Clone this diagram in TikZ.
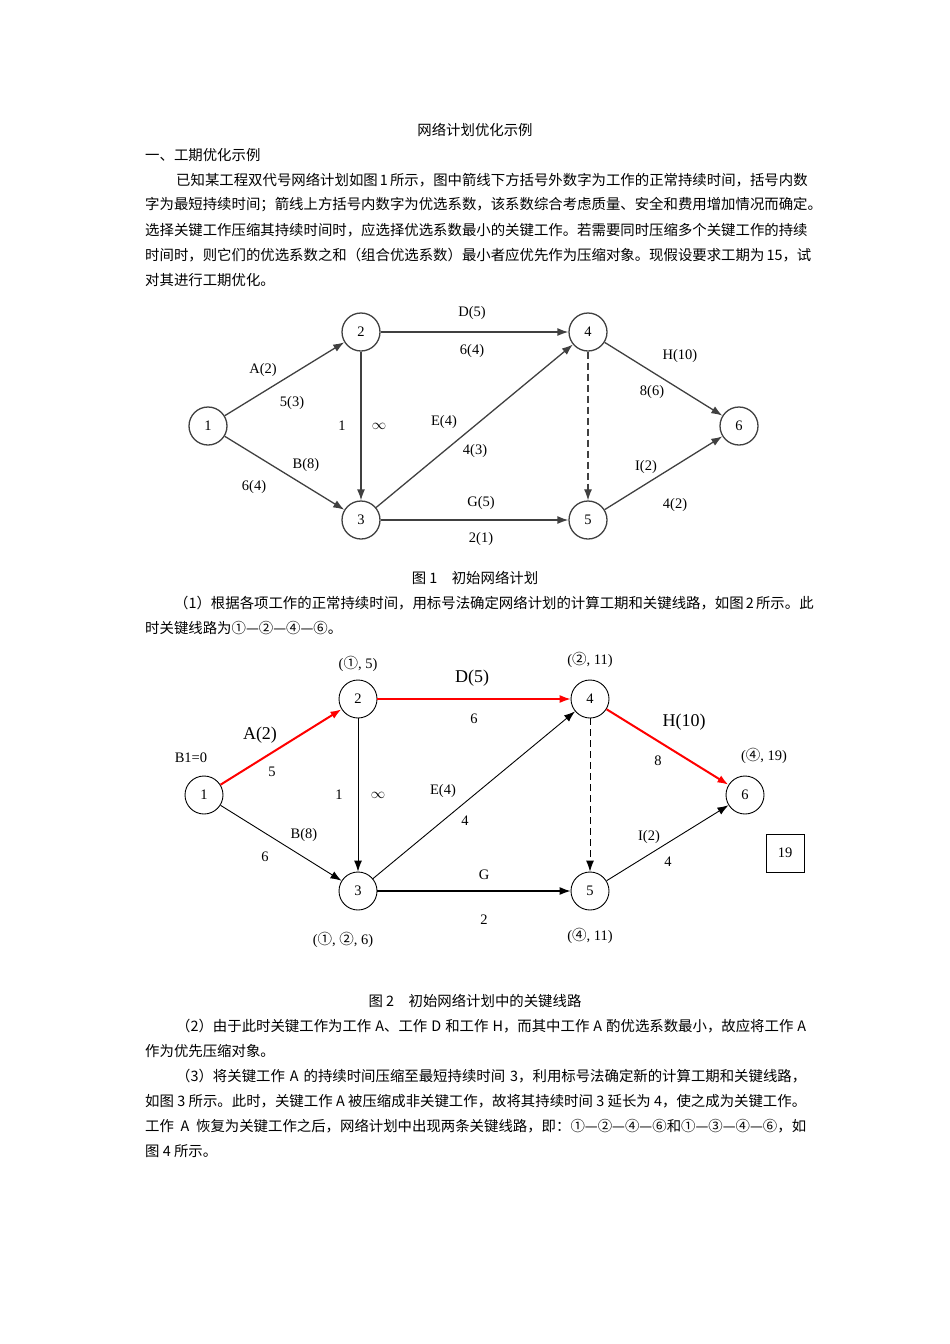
\documentclass[tikz,border=0pt]{standalone}
\usepackage{fontspec}
\setmainfont{Noto Sans CJK SC}
\newfontfamily\labfont{Liberation Serif}
\newfontfamily\cjkfont{Noto Sans CJK SC}
\usetikzlibrary{arrows.meta}
\XeTeXlinebreaklocale "zh"
\XeTeXlinebreakskip=0pt plus 3pt minus 2pt

\tikzset{
  knot/.style={circle, draw, minimum size=38pt, inner sep=0pt, font=\labfont\fontsize{14.5}{14.5}\selectfont},
  lab/.style={inner sep=0pt, font=\labfont\fontsize{14.5}{14.5}\selectfont},
  biglab/.style={inner sep=0pt, font=\labfont\fontsize{18}{18}\selectfont},
  txt/.style={anchor=west, inner sep=0pt, font=\fontsize{14.4}{14.4}\selectfont},
  arr/.style={-{Latex[length=11pt,width=8pt]}},
  dashline/.style={dash pattern=on 7pt off 4pt},
}
\newcommand{\fullrow}[1]{\hbox to 661pt{#1}}
\newcommand{\indrow}[1]{\hbox to 630pt{#1}}

\begin{document}
\begin{tikzpicture}[x=1pt, y=-1pt]
    \useasboundingbox (0,0) rectangle (950,1344);

    % Title and first paragraph
    \node[txt, anchor=center] (title) at (475,130) {网络计划优化示例};
    \node[txt] (sec) at (145,155) {一、工期优化示例};
    \node[txt] (p1a) at (176,180) {\indrow{已知某工程双代号网络计划如图 1 所示，图中箭线下方括号外数字为工作的正常持续时间，括号内数}};
    \node[txt] (p1b) at (145,205) {\fullrow{字为最短持续时间；箭线上方括号内数字为优选系数，该系数综合考虑质量、安全和费用增加情况而确定。}};
    \node[txt] (p1c) at (145,230) {\fullrow{选择关键工作压缩其持续时间时，应选择优选系数最小的关键工作。若需要同时压缩多个关键工作的持续}};
    \node[txt] (p1d) at (145,255) {\fullrow{时间时，则它们的优选系数之和（组合优选系数）最小者应优先作为压缩对象。现假设要求工期为 15，试}};
    \node[txt] (p1e) at (145,280) {对其进行工期优化。};

    % Figure 1: nodes
    \begin{scope}[every node/.append style={draw=black!75}, line width=1.3pt, draw=black!75]
        \node[knot] (a1) at (208,426) {1};
        \node[knot] (a2) at (361,332) {2};
        \node[knot] (a3) at (361,520) {3};
        \node[knot] (a4) at (588,332) {4};
        \node[knot] (a5) at (588,520) {5};
        \node[knot] (a6) at (739,426) {6};

        % Figure 1: arrows
        \draw[arr] (a1) -- (a2);
        \draw[arr] (a1) -- (a3);
        \draw[arr] (a2) -- (a4);
        \draw[arr] (a2) -- (a3);
        \draw[arr] (a3) -- (a4);
        \draw[arr] (a3) -- (a5);
        \draw[arr, dashline, line width=1.1pt] (a4) -- (a5);
        \draw[arr] (a4) -- (a6);
        \draw[arr] (a5) -- (a6);
    \end{scope}

    % Figure 1: labels
    \node[lab] (la1) at (263,370) {A(2)};
    \node[lab] (la2) at (292,403) {5(3)};
    \node[lab] (lb1) at (306,465) {B(8)};
    \node[lab] (lb2) at (254,487) {6(4)};
    \node[lab] (lc1) at (342,426) {1};
    \node[lab] (lc2) at (379,426) {$\infty$};
    \node[lab] (ld1) at (472,313) {D(5)};
    \node[lab] (ld2) at (472,351) {6(4)};
    \node[lab] (le1) at (444,422) {E(4)};
    \node[lab] (le2) at (475,451) {4(3)};
    \node[lab] (lg1) at (481,503) {G(5)};
    \node[lab] (lg2) at (481,539) {2(1)};
    \node[lab] (lh1) at (680,356) {H(10)};
    \node[lab] (lh2) at (652,392) {8(6)};
    \node[lab] (li1) at (646,467) {I(2)};
    \node[lab] (li2) at (675,505) {4(2)};

    \node[txt, anchor=center] (cap1) at (475,578) {图 1\quad 初始网络计划};

    % Second paragraph
    \node[txt] (p2a) at (174,603) {\hbox to 632pt{（1）根据各项工作的正常持续时间，用标号法确定网络计划的计算工期和关键线路，如图 2 所示。此}};
    \node[txt] (p2b) at (145,628) {时关键线路为①—②—④—⑥。};

    % Figure 2: nodes
    \begin{scope}[line width=0.9pt]
        \node[knot] (b1) at (204,795) {1};
        \node[knot] (b2) at (358,699) {2};
        \node[knot] (b3) at (358,891) {3};
        \node[knot] (b4) at (590,699) {4};
        \node[knot] (b5) at (590,891) {5};
        \node[knot] (b6) at (745,795) {6};
        \node[draw, minimum size=38pt, inner sep=0pt, font=\labfont\fontsize{14.5}{14.5}\selectfont] (total) at (785,853) {19};

        % Figure 2: arrows
        \draw[arr, red, line width=2pt] (b1) -- (b2);
        \draw[arr, red, line width=1.2pt] (b2) -- (b4);
        \draw[arr, red, line width=2pt] (b4) -- (b6);
        \draw[arr] (b1) -- (b3);
        \draw[arr] (b2) -- (b3);
        \draw[arr] (b3) -- (b4);
        \draw[arr, line width=1.2pt] (b3) -- (b5);
        \draw[arr, dashline] (b4) -- (b5);
        \draw[arr] (b5) -- (b6);
    \end{scope}

    % Figure 2: labels
    \node[lab] (m1) at (191,758) {B1=0};
    \node[lab] (m2) at (358,664) {({\cjkfont ①}, 5)};
    \node[lab] (m3) at (590,660) {({\cjkfont ②}, 11)};
    \node[lab] (m4) at (764,756) {({\cjkfont ④}, 19)};
    \node[lab] (m3b) at (343,940) {({\cjkfont ①}, {\cjkfont ②}, 6)};
    \node[lab] (m5) at (590,936) {({\cjkfont ④}, 11)};
    \node[biglab] (ka1) at (260,735) {A(2)};
    \node[lab] (ka2) at (272,772) {5};
    \node[biglab] (kd1) at (472,678) {D(5)};
    \node[lab] (kd2) at (474,719) {6};
    \node[biglab] (kh1) at (684,722) {H(10)};
    \node[lab] (kh2) at (658,761) {8};
    \node[lab] (kc1) at (339,795) {1};
    \node[lab] (kc2) at (378,795) {$\infty$};
    \node[lab] (ke1) at (443,791) {E(4)};
    \node[lab] (ke2) at (465,821) {4};
    \node[lab] (kb1) at (304,835) {B(8)};
    \node[lab] (kb2) at (265,857) {6};
    \node[lab] (kg1) at (484,875) {G};
    \node[lab] (kg2) at (484,920) {2};
    \node[lab] (ki1) at (649,837) {I(2)};
    \node[lab] (ki2) at (668,862) {4};

    \node[txt, anchor=center] (cap2) at (475,1001) {图 2\quad 初始网络计划中的关键线路};

    % Third part
    \node[txt] (p3a) at (176,1026) {\indrow{（2）由于此时关键工作为工作 A、工作 D 和工作 H，而其中工作 A 酌优选系数最小，故应将工作 A}};
    \node[txt] (p3b) at (145,1051) {作为优先压缩对象。};
    \node[txt] (p4a) at (176,1076) {\indrow{（3）将关键工作 A 的持续时间压缩至最短持续时间 3，利用标号法确定新的计算工期和关键线路，}};
    \node[txt] (p4b) at (145,1101) {\fullrow{如图 3 所示。此时，关键工作 A 被压缩成非关键工作，故将其持续时间 3 延长为 4，使之成为关键工作。}};
    \node[txt] (p4c) at (145,1126) {\fullrow{工作 A 恢复为关键工作之后，网络计划中出现两条关键线路，即：①—②—④—⑥和①—③—④—⑥，如}};
    \node[txt] (p4d) at (145,1151) {图 4 所示。};
\end{tikzpicture}
\end{document}
